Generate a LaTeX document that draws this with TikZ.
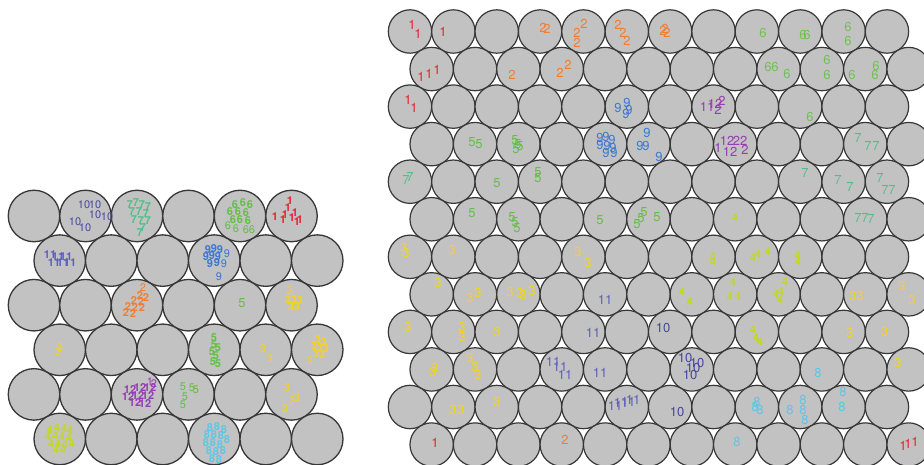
\documentclass[tikz,border=0pt]{standalone}
\usepackage{fontspec}
\newfontfamily\hv{TeX Gyre Heros}
\definecolor{cellgray}{RGB}{194,194,194}
\definecolor{ring}{RGB}{55,55,55}
\definecolor{ca}{RGB}{232,35,50}
\definecolor{cb}{RGB}{240,125,50}
\definecolor{cc}{RGB}{245,212,25}
\definecolor{cd}{RGB}{195,215,40}
\definecolor{ce}{RGB}{100,190,70}
\definecolor{cf}{RGB}{110,195,80}
\definecolor{cg}{RGB}{80,190,135}
\definecolor{ch}{RGB}{90,200,230}
\definecolor{ci}{RGB}{60,120,210}
\definecolor{cj}{RGB}{70,70,160}
\definecolor{ck}{RGB}{95,95,190}
\definecolor{cl}{RGB}{150,60,180}
\newcommand\nums[2]{\foreach \px/\py/\t in {#2} {\node[#1] (n-\px-\py) at (\px,\py) {\t};}}
\begin{document}
\begin{tikzpicture}[x=1pt,y=-1pt,
  lab/.style={font=\hv\fontsize{13}{13}\selectfont, inner sep=0pt},
  sml/.style={font=\hv\fontsize{11}{11}\selectfont, inner sep=0pt},
  blob/.style={font=\hv\bfseries\fontsize{11}{11}\selectfont, inner sep=0pt},
  cellL/.style={circle, draw=ring, fill=cellgray, line width=1.3pt, minimum size=51.5pt, inner sep=0pt},
  cellR/.style={circle, draw=ring, fill=cellgray, line width=1.2pt, minimum size=43.4pt, inner sep=0pt}]
\useasboundingbox (0,0) rectangle (924,465);
\clip (0,0) rectangle (924,465);
\fill[white] (0,0) rectangle (924,465);
% left grid
\foreach \i in {0,...,5}{
  \foreach \j in {0,...,5}{
    \pgfmathsetmacro\cx{34+51.5*\j+mod(\i,2)*25.75}
    \pgfmathsetmacro\cy{216+44.6*\i}
    \node[cellL] (L-\i-\j) at (\cx,\cy) {};
  }}
% right grid
\foreach \i in {0,...,11}{
  \foreach \j in {0,...,11}{
    \pgfmathsetmacro\cx{410+43.36*\j+mod(\i,2)*21.68}
    \pgfmathsetmacro\cy{31.5+37.55*\i}
    \node[cellR] (R-\i-\j) at (\cx,\cy) {};
  }}
% ---------- left grid labels ----------
\nums{sml,cj}{84/205/10,95/205/10,95/215/10,107/217/10,75/222/10,85/228/10}
\nums{blob,cg}{130/205/7,136/203/7,142/205/7,148/207/7,132/212/7,139/212/7,146/214/7,134/220/7,141/221/7,148/221/7,143/228/7,140/233/7}
\nums{blob,ce}{235/205/6,243/203/6,250/205/6,230/212/6,238/212/6,246/213/6,233/220/6,240/220/6,248/221/6}
\nums{sml,ce}{228/226/6,236/229/6,246/230/6,252/230/6}
\nums{blob,ca}{275/217/1,285/215/1,290/201/1,288/208/1,295/213/1,300/220/1,297/222/1,292/218/1,283/220/1}
\nums{blob,ck}{50/255/11,58/257/11,54/263/11,63/263/11,70/263/11,66/257/11}
\nums{blob,ci}{208/250/9,214/249/9,220/250/9,206/257/9,212/256/9,218/257/9,210/264/9,217/263/9}
\nums{sml,ci}{227/254/9,224/264/9,219/277/9}
\nums{blob,cb}{140/296/2,146/298/2,134/301/2,141/302/2,128/307/2,135/308/2,142/308/2,126/313/2,133/314/2}
\nums{sml,cb}{143/288/2}
\nums{lab,ce}{242/303/5}
\nums{sml,cc}{290/291/3}
\nums{blob,cc}{288/300/3,294/300/3,300/301/3,291/307/3,297/307/3}
\nums{sml,cc}{60/348/3,58/352/3}
\nums{blob,ce}{214/338/5,214/345/5,218/348/5,212/352/5,216/356/5,213/362/5,218/364/5}
\nums{sml,cc}{263/349/3,270/359/3}
\nums{blob,cc}{318/340/3,324/342/3,314/346/3,320/348/3,326/349/3,316/354/3,322/355/3}
\nums{sml,cc}{310/361/3}
\nums{blob,cl}{130/390/12,140/388/12,150/388/12,128/397/12,138/396/12,148/396/12,135/403/12,145/404/12}
\nums{sml,cl}{150/382/1,154/384/2}
\nums{sml,ce}{183/387/5,192/388/5,196/390/5,185/397/5,183/405/5}
\nums{sml,cc}{287/388/3,297/398/3,285/409/3,292/401/3}
\nums{blob,cd}{50/430/4,57/428/4,64/429/4,70/431/4,48/437/4,55/436/4,62/437/4,69/438/4,51/444/4,58/444/4,65/445/4,72/444/4,56/450/4,63/450/4}
\nums{blob,ch}{210/428/8,217/427/8,224/430/8,207/435/8,214/435/8,221/436/8,227/440/8,206/443/8,213/443/8,220/445/8,209/451/8,216/452/8,223/451/8,212/459/8,219/460/8}
% ---------- right grid labels ----------
\nums{lab,ca}{412/25/1,418/34/1,443/32/1,421/77/1,429/74/1,437/70/1,408/100/1,414/108/1,435/443/1,903/446/1,908/444/1,915/442/1}
\nums{lab,cb}{543/28/2,547/29/2,584/24/2,577/33/2,577/43/2,618/25/2,623/33/2,627/41/2,663/31/2,667/33/2,665/29/2,512/75/2,560/73/2,568/65/2,565/440/2}
\nums{lab,cc}{404/248/3,406/253/3,452/250/3,578/252/3,588/263/3,438/283/3,470/298/3,478/293/3,510/292/3,520/293/3,523/295/3,532/291/3,853/296/3,860/296/3,902/286/3,912/300/3,408/327/3,462/327/3,462/337/3,497/332/3,850/333/3,885/332/3,433/372/3,435/368/3,470/358/3,475/367/3,478/375/3,898/363/3,453/410/3,461/410/3,497/402/3}
\nums{blob,cd}{735/218/4,713/257/4,713/262/4,753/258/4,758/255/4,768/252/4,798/256/4,798/262/4,682/292/4,690/302/4,733/283/4,730/297/4,738/297/4,776/295/4,781/292/4,785/282/4,780/300/4,753/330/4,756/338/4,760/342/4}
\nums{lab,ce}{472/142/5,479/144/5,515/140/5,518/144/5,516/149/5,520/146/5,497/183/5,538/172/5,538/178/5,472/213/5,512/217/5,515/222/5,517/228/5,600/220/5,637/224/5,641/218/5,644/212/5,657/217/5}
\nums{lab,cf}{763/33/6,803/35/6,807/35/6,848/27/6,848/41/6,768/67/6,775/67/6,787/74/6,827/60/6,827/75/6,852/75/6,876/66/6,875/75/6,810/117/6}
\nums{lab,cg}{406/180/7,410/177/7,858/138/7,868/146/7,876/146/7,805/173/7,838/180/7,850/187/7,880/178/7,885/190/7,892/190/7,858/218/7,865/218/7,871/219/7}
\nums{lab,ch}{818/373/8,755/407/8,760/410/8,757/402/8,790/410/8,803/400/8,803/410/8,805/420/8,843/392/8,842/407/8,737/442/8}
\nums{lab,ci}{618/108/9,627/103/9,629/110/9,626/114/9,600/138/9,606/137/9,612/140/9,600/145/9,607/146/9,613/148/9,606/153/9,614/153/9,647/133/9,640/146/9,646/146/9,659/157/9}
\nums{lab,cj}{663/328/10,685/358/10,697/363/10,690/375/10,693/368/10,677/412/10}
\nums{lab,ck}{605/300/11,593/333/11,553/362/11,560/367/11,565/375/11,600/373/11,615/406/11,621/403/11,628/402/11,633/400/11}
\nums{lab,cl}{707/107/11,715/104/12,722/101/2,718/110/2,718/148/1,727/141/12,740/141/22,730/152/12,745/150/2}
\end{tikzpicture}
\end{document}
